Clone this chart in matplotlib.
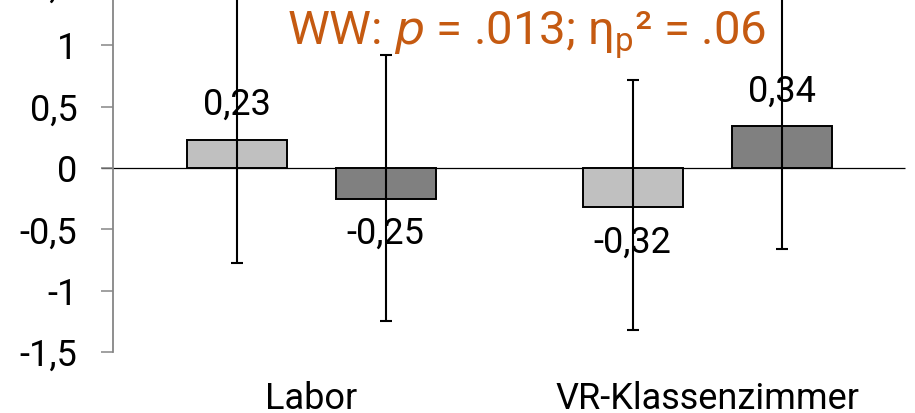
import matplotlib.pyplot as plt
import numpy as np

plt.rcParams['font.family'] = ['Roboto', 'DejaVu Sans']

categories = ["Labor", "VR-Klassenzimmer"]
light_vals = [0.23, -0.32]
dark_vals = [-0.25, 0.34]
light_err_low = [1.0, 1.0]
light_err_high = [1.25, 1.04]
dark_err_low = [1.0, 1.0]
dark_err_high = [1.17, 1.15]
yticks = [-1.5, -1, -0.5, 0, 0.5, 1, 1.5]
ytick_labels = ["-1,5", "-1", "-0,5", "0", "0,5", "1", "1,5"]
note = r"WW: $\it{p}$ = .013; η$_\mathregular{p}$² = .06"

fig = plt.figure(figsize=(9.15, 4.13), dpi=100)
ax = fig.add_axes([0.1235, 0.1477, 0.866, 1.039])

x = np.arange(len(categories))
w = 0.2525
off = 0.188

ax.bar(x - off, light_vals, w, color='#C0C0C0', edgecolor='black', linewidth=1.4, zorder=2)
ax.bar(x + off, dark_vals, w, color='#808080', edgecolor='black', linewidth=1.4, zorder=2)
ax.errorbar(x - off, light_vals, yerr=[light_err_low, light_err_high], fmt='none',
            ecolor='black', elinewidth=1.5, capsize=4.5, capthick=1.5, zorder=3)
ax.errorbar(x + off, dark_vals, yerr=[dark_err_low, dark_err_high], fmt='none',
            ecolor='black', elinewidth=1.5, capsize=4.5, capthick=1.5, zorder=3)

# value labels
for xs, vals in [(x - off, light_vals), (x + off, dark_vals)]:
    for xi, v in zip(xs, vals):
        dy = 25 if v >= 0 else -25.5
        ax.annotate(f"{v:.2f}".replace('.', ','), (xi, v), xytext=(0, dy),
                    textcoords='offset points', ha='center', va='center',
                    fontsize=26, zorder=4)

# zero line
ax.hlines(0, -0.5 - 12 / 396, 1.5, color='black', linewidth=0.9, clip_on=False, zorder=1)

ax.text(0.543, 1.0, note, color='#C55A11', fontsize=34, ha='center', va='baseline')

ax.set_xlim(-0.5, 1.5)
ax.set_ylim(-1.5, 2.0)
ax.set_yticks(yticks)
ax.set_yticklabels(ytick_labels, fontsize=26)
ax.set_xticks(x)
ax.set_xticklabels(categories, fontsize=26)
ax.tick_params(axis='x', length=0, pad=21)
ax.tick_params(axis='y', length=8.6, width=1.1, color='#868686', pad=17)
for s in ['top', 'right', 'bottom']:
    ax.spines[s].set_visible(False)
ax.spines['left'].set_color('#868686')
ax.spines['left'].set_linewidth(1.3)

fig.savefig('out.png', dpi=100)
